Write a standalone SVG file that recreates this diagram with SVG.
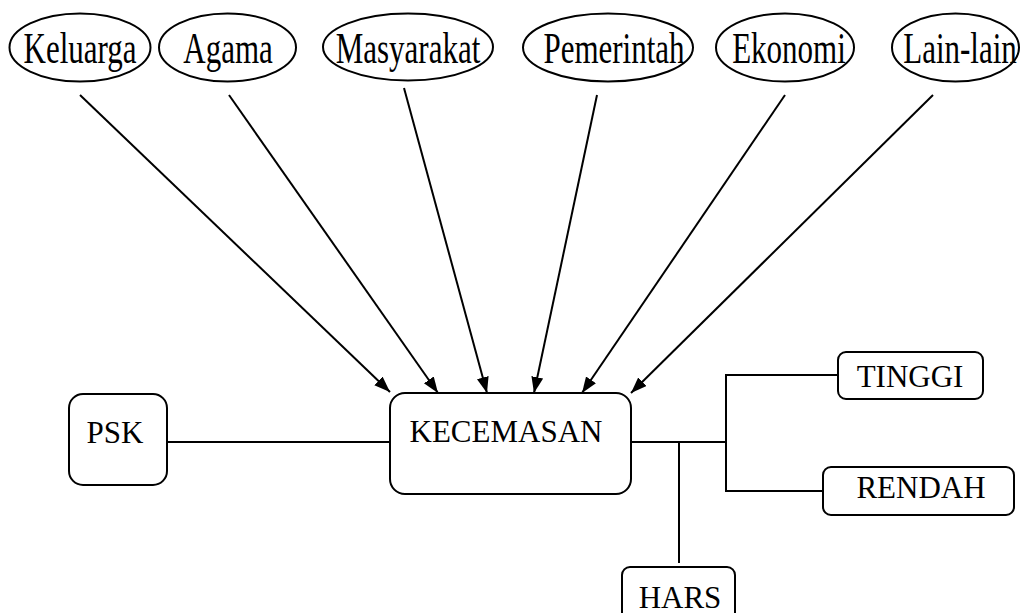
<svg xmlns="http://www.w3.org/2000/svg" width="1021" height="613" viewBox="0 0 1021 613">
<style>
.sh{fill:#fff;stroke:#000;stroke-width:2}
.ln{fill:none;stroke:#000;stroke-width:2}
.t{font-family:"Liberation Serif","Times New Roman",serif;font-size:31px;fill:#000;text-anchor:middle}
</style>
<defs>
<marker id="ah" markerUnits="userSpaceOnUse" markerWidth="17" markerHeight="13" refX="16" refY="6" orient="auto">
<path d="M0,0 L16,6 L0,12 z" fill="#000"/>
</marker>
</defs>
<rect width="1021" height="613" fill="#fff"/>
<g id="connectors">
<line class="ln" x1="80" y1="95" x2="390" y2="392" marker-end="url(#ah)"/>
<line class="ln" x1="229" y1="95" x2="438" y2="393" marker-end="url(#ah)"/>
<line class="ln" x1="404" y1="88" x2="487" y2="393" marker-end="url(#ah)"/>
<line class="ln" x1="597" y1="95" x2="534" y2="393" marker-end="url(#ah)"/>
<line class="ln" x1="785" y1="95" x2="582" y2="393" marker-end="url(#ah)"/>
<line class="ln" x1="933" y1="95" x2="631" y2="393" marker-end="url(#ah)"/>
<line class="ln" x1="167" y1="442" x2="390" y2="442"/>
<line class="ln" x1="631" y1="442" x2="726" y2="442"/>
<polyline class="ln" points="838,375 726,375 726,491 823,491"/>
<line class="ln" x1="679" y1="442" x2="679" y2="563"/>
</g>
<g id="keluarga"><ellipse class="sh" cx="80" cy="47.5" rx="70.5" ry="34"/><text class="t" transform="translate(80,63) scale(1,1.4)">Keluarga</text></g>
<g id="agama"><ellipse class="sh" cx="227.5" cy="47.5" rx="68.5" ry="34"/><text class="t" transform="translate(228,63) scale(1,1.4)">Agama</text></g>
<g id="masyarakat"><ellipse class="sh" cx="408" cy="47" rx="85" ry="33.5"/><text class="t" transform="translate(408,63) scale(1,1.4)">Masyarakat</text></g>
<g id="pemerintah"><ellipse class="sh" cx="608" cy="47.5" rx="85" ry="34"/><text class="t" transform="translate(614,63) scale(1,1.4)">Pemerintah</text></g>
<g id="ekonomi"><ellipse class="sh" cx="785" cy="47.5" rx="69" ry="34"/><text class="t" transform="translate(789,63) scale(1,1.4)">Ekonomi</text></g>
<g id="lainlain"><ellipse class="sh" cx="955.5" cy="47.5" rx="63.5" ry="34"/><text class="t" transform="translate(960,63) scale(1,1.4)">Lain-lain</text></g>
<g id="psk"><rect class="sh" x="69" y="394" width="98" height="91" rx="14"/><text class="t" x="115" y="443">PSK</text></g>
<g id="kecemasan"><rect class="sh" x="390" y="393" width="241" height="101" rx="15"/><text class="t" x="506" y="442">KECEMASAN</text></g>
<g id="tinggi"><rect class="sh" x="838" y="352" width="145" height="47" rx="8"/><text class="t" x="910" y="387">TINGGI</text></g>
<g id="rendah"><rect class="sh" x="823" y="467" width="191" height="48" rx="8"/><text class="t" x="921" y="498">RENDAH</text></g>
<g id="hars"><rect class="sh" x="622" y="567" width="113" height="60" rx="8"/><text class="t" x="680" y="608">HARS</text></g>
</svg>
